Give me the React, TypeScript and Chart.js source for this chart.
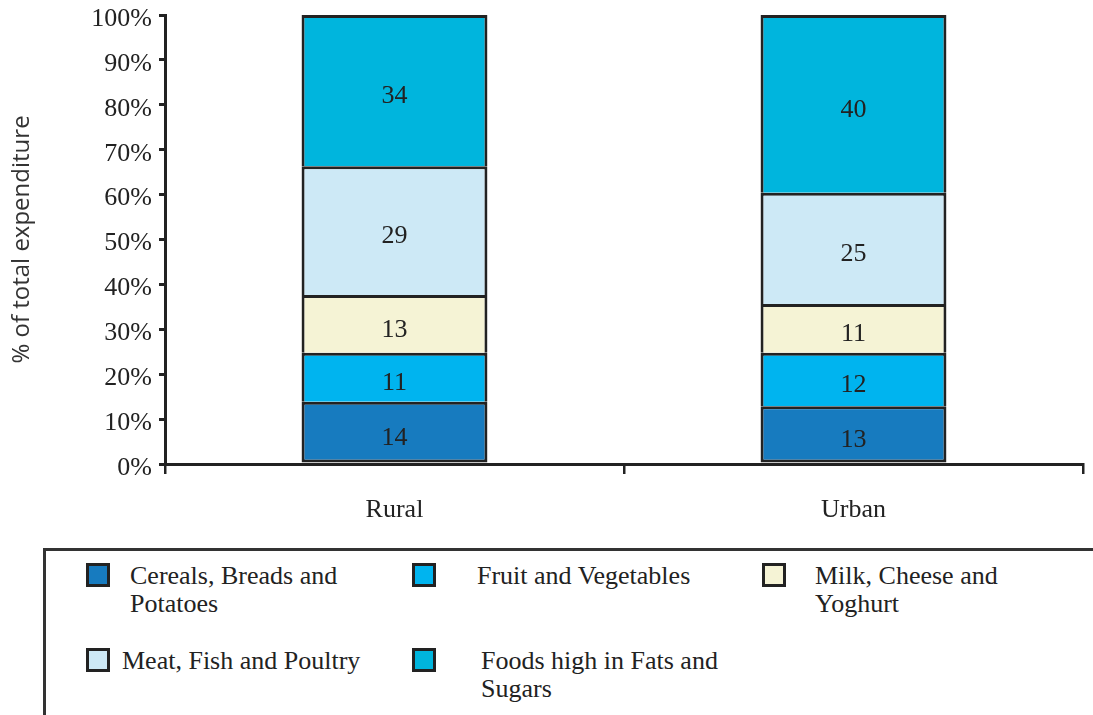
import React, { useEffect, useRef } from "react";
import { Chart, registerables } from "chart.js";

Chart.register(...registerables);

const categories = ["Rural", "Urban"];
const seriesNames = [
  "Cereals, Breads and Potatoes",
  "Fruit and Vegetables",
  "Milk, Cheese and Yoghurt",
  "Meat, Fish and Poultry",
  "Foods high in Fats and Sugars",
];
const legendLines = [
  ["Cereals, Breads and", "Potatoes"],
  ["Fruit and Vegetables"],
  ["Milk, Cheese and", "Yoghurt"],
  ["Meat, Fish and Poultry"],
  ["Foods high in Fats and", "Sugars"],
];
const cereals = [14, 13];
const fruitVeg = [11, 12];
const milk = [13, 11];
const meat = [29, 25];
const fats = [34, 40];
const seriesValues = [cereals, fruitVeg, milk, meat, fats];
const seriesColors = ["#177bbf", "#00b4ef", "#f5f3d5", "#cde9f6", "#00b5dd"];
const yTickValues = [0, 10, 20, 30, 40, 50, 60, 70, 80, 90, 100];
const yTitle = "% of total expenditure";

// legend layout (positions only)
const legendPos = [
  { mx: 86, my: 563, tx: 130 },
  { mx: 412, my: 563, tx: 477 },
  { mx: 762, my: 563, tx: 815 },
  { mx: 86, my: 648, tx: 122 },
  { mx: 412, my: 648, tx: 481 },
];

const SERIF = '"Liberation Serif", "Times New Roman", serif';

const totals = categories.map((_, i) =>
  seriesValues.reduce((s, arr) => s + arr[i], 0)
);

const labelPlugin = {
  id: "segLabels",
  afterDatasetsDraw(chart: any) {
    const ctx = chart.ctx;
    ctx.save();
    ctx.font = `26px ${SERIF}`;
    ctx.fillStyle = "#222";
    ctx.textAlign = "center";
    ctx.textBaseline = "middle";
    chart.data.datasets.forEach((ds: any, di: number) => {
      const meta = chart.getDatasetMeta(di);
      meta.data.forEach((el: any, i: number) => {
        const p = el.getProps(["x", "y", "base"], true);
        ctx.fillText(String(ds.raw[i]), p.x, (p.y + p.base) / 2 + 6);
      });
    });
    ctx.restore();
  },
};

export default function App() {
  const ref = useRef<HTMLCanvasElement>(null);
  useEffect(() => {
    document.body.style.margin = "0";
    const chart = new Chart(ref.current as HTMLCanvasElement, {
      type: "bar",
      data: {
        labels: categories,
        datasets: seriesValues.map((vals, si) => ({
          label: seriesNames[si],
          data: vals.map((v, i) => (v / totals[i]) * 100),
          raw: vals,
          backgroundColor: seriesColors[si],
          borderColor: "#222",
          borderWidth:
            si === 0
              ? 3
              : { top: 3, left: 3, right: 3, bottom: 0 },
          borderSkipped: false,
          barPercentage: 0.405,
          categoryPercentage: 1,
        })) as any,
      },
      options: {
        animation: false,
        responsive: false,
        maintainAspectRatio: false,
        layout: { padding: { left: 0, right: 10, top: 15, bottom: 0 } },
        plugins: {
          legend: { display: false },
          tooltip: { enabled: false },
        },
        scales: {
          x: {
            stacked: true,
            afterFit: (s: any) => {
              s.height = 545 - 464;
            },
            grid: {
              offset: true,
              drawOnChartArea: false,
              tickLength: 10,
              lineWidth: 2.5,
              color: "#222",
            },
            border: { display: true, color: "#222", width: 3 },
            ticks: {
              padding: 21,
              color: "#222",
              font: { family: SERIF, size: 26 },
            },
          },
          y: {
            stacked: true,
            min: 0,
            max: 100,
            afterFit: (s: any) => {
              s.width = 165;
            },
            afterBuildTicks: (s: any) => {
              s.ticks = yTickValues.map((v) => ({ value: v }));
            },
            grid: {
              drawOnChartArea: false,
              tickLength: 6,
              lineWidth: 3,
              color: "#222",
            },
            border: { display: true, color: "#222", width: 3 },
            ticks: {
              padding: 7,
              labelOffset: 4,
              color: "#222",
              font: { family: SERIF, size: 26, lineHeight: 0.5 },
              callback: (v: any) => `${v}%`,
            },
            title: {
              display: true,
              text: yTitle,
              color: "#333",
              font: { family: '"Open Sans", sans-serif', size: 24 },
              padding: { top: 8, bottom: 0 },
            },
          },
        },
      },
      plugins: [labelPlugin],
    });
    return () => chart.destroy();
  }, []);

  return (
    <div
      style={{
        position: "relative",
        width: 1093,
        height: 715,
        overflow: "hidden",
        background: "#fff",
      }}
    >
      <canvas
        ref={ref}
        width={1093}
        height={545}
        style={{ position: "absolute", left: 0, top: 0, width: 1093, height: 545 }}
      />
      <div
        style={{
          position: "absolute",
          left: 43,
          top: 548,
          width: 1200,
          height: 164,
          borderTop: "3px solid #333",
          borderLeft: "3px solid #333",
          borderBottom: "1px solid #ccc",
        }}
      />
      {seriesNames.map((name, i) => (
        <React.Fragment key={name}>
          <div
            style={{
              position: "absolute",
              left: legendPos[i].mx,
              top: legendPos[i].my,
              width: 18,
              height: 18,
              background: seriesColors[i],
              border: "3px solid #222",
            }}
          />
          <div
            style={{
              position: "absolute",
              left: legendPos[i].tx,
              top: legendPos[i].my - 1,
              fontFamily: SERIF,
              fontSize: 26,
              lineHeight: "28px",
              color: "#222",
              whiteSpace: "nowrap",
            }}
          >
            {legendLines[i].map((ln, k) => (
              <div key={k}>{ln}</div>
            ))}
          </div>
        </React.Fragment>
      ))}
    </div>
  );
}
